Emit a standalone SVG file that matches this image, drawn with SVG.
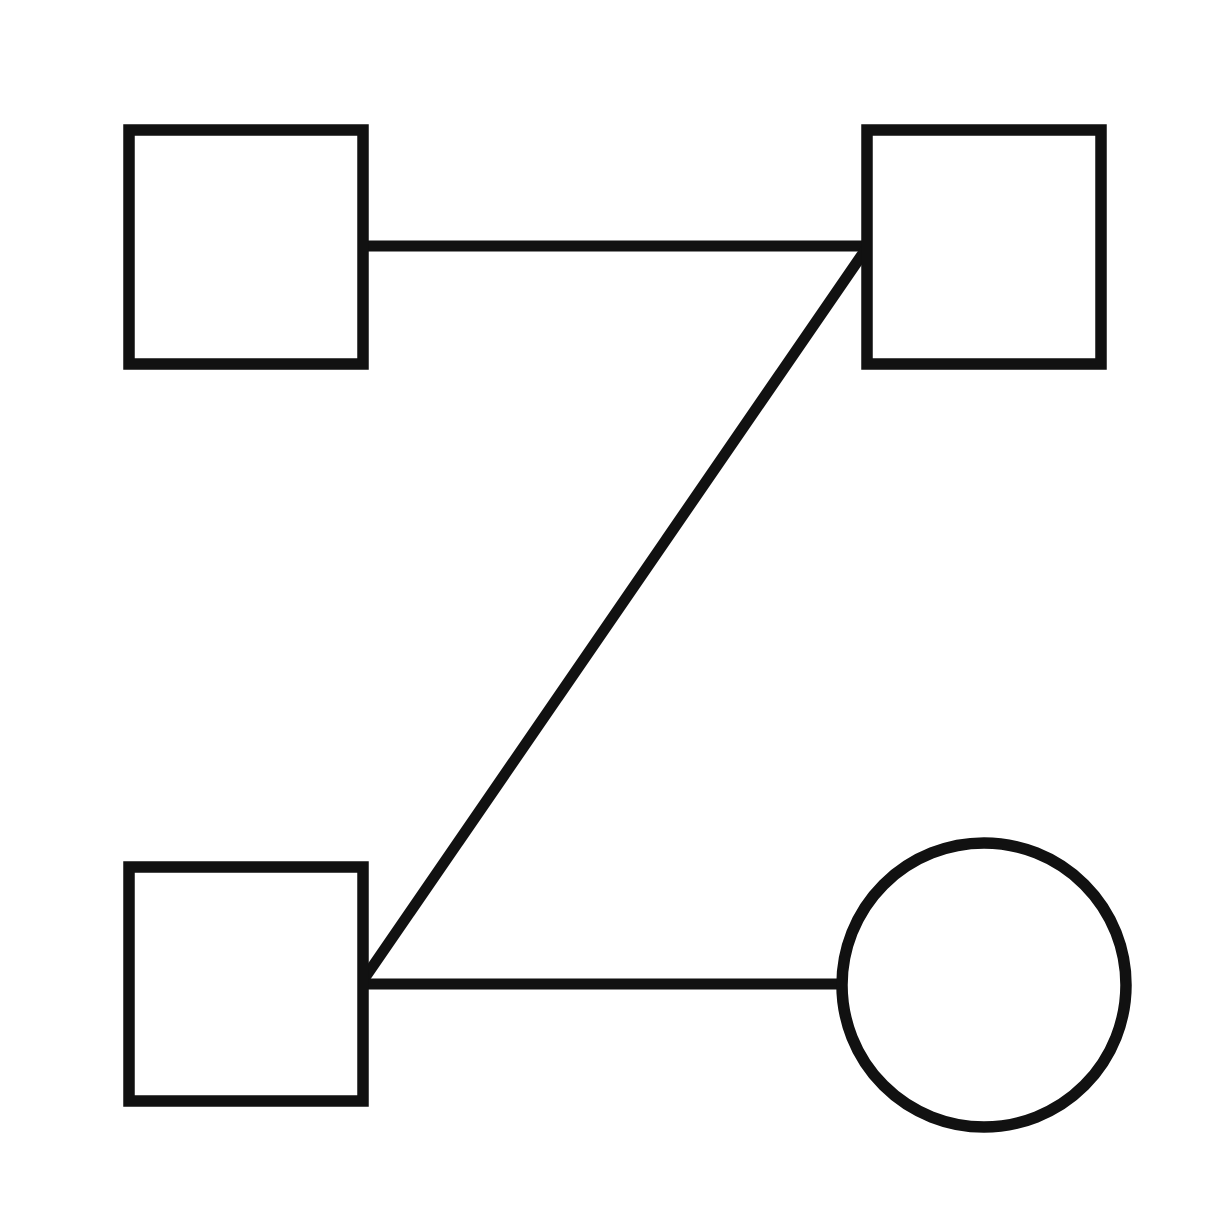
<svg xmlns="http://www.w3.org/2000/svg" width="1230" height="1230" viewBox="0 0 1230 1230">
<style>
.n{fill:#fff;stroke:#111;stroke-width:11.5}
.e{stroke:#111;stroke-width:11;fill:none}
</style>
<rect width="1230" height="1230" fill="#fff"/>
<g id="connectors">
<line class="e" x1="363" y1="246" x2="867" y2="246"/>
<line class="e" x1="866" y1="249" x2="364" y2="979"/>
<line class="e" x1="363" y1="984" x2="843" y2="984"/>
</g>
<g id="n1"><rect class="n" x="129" y="130" width="234" height="234"/></g>
<g id="n2"><rect class="n" x="867" y="130" width="234" height="234"/></g>
<g id="n3"><rect class="n" x="129" y="867" width="234" height="234"/></g>
<g id="n4"><circle class="n" cx="984" cy="985" r="142"/></g>
</svg>
